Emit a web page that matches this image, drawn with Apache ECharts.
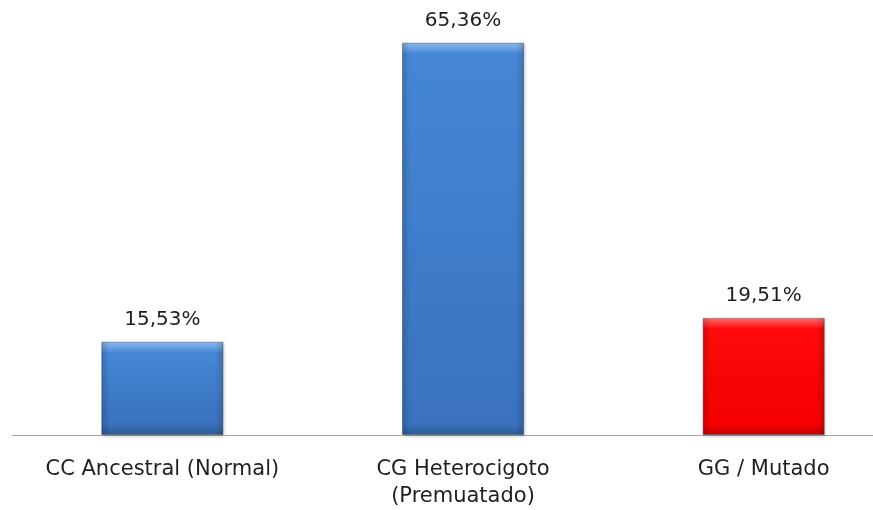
<!DOCTYPE html>
<html>
<head>
<meta charset="utf-8">
<script src="https://cdn.jsdelivr.net/npm/echarts@6/dist/echarts.min.js"></script>
<style>
  html, body { margin: 0; padding: 0; background: #ffffff; }
  #chart { width: 873px; height: 510px; }
</style>
</head>
<body>
<div id="chart"></div>
<script>
// Genotype distribution (percent of samples)
const categories = ['CC Ancestral (Normal)', 'CG Heterocigoto\n(Premuatado)', 'GG / Mutado'];
const values = [15.53, 65.36, 19.51];
const valueLabels = ['15,53%', '65,36%', '19,51%'];
const barKinds = ['blue', 'blue', 'red'];

const palettes = {
  blue: { top: '#8fbef2', main: '#4587d5', low: '#3a72bd', bottom: '#2c5a96' },
  red:  { top: '#ff7070', main: '#ff0a0a', low: '#f50000', bottom: '#c80000' }
};

const yMax = 70;
const plotHeight = 420;

// vertical bevel: light top rim, darker foot
function bevelFill(value, kind) {
  const p = palettes[kind];
  const h = value / yMax * plotHeight;
  const t = Math.min(0.3, 11 / h);
  const b = Math.min(0.3, 11 / h);
  return new echarts.graphic.LinearGradient(0, 0, 0, 1, [
    { offset: 0, color: p.top },
    { offset: t, color: p.main },
    { offset: 1 - b, color: p.low },
    { offset: 1, color: p.bottom }
  ]);
}

// horizontal shading laid over the bars: darker side rims
const sideShade = new echarts.graphic.LinearGradient(0, 0, 1, 0, [
  { offset: 0, color: 'rgba(0,0,0,0.15)' },
  { offset: 0.07, color: 'rgba(0,0,0,0)' },
  { offset: 0.93, color: 'rgba(0,0,0,0)' },
  { offset: 1, color: 'rgba(0,0,0,0.15)' }
]);

const chart = echarts.init(document.getElementById('chart'));
chart.setOption({
  animation: false,
  backgroundColor: '#ffffff',
  // the plot runs past the right edge so the last category sits where it should
  grid: {
    left: 12, width: 902, top: 15, height: plotHeight,
    containLabel: false, outerBoundsMode: 'none'
  },
  xAxis: {
    type: 'category',
    data: categories,
    axisLine: { show: true, lineStyle: { color: '#a6a6a6', width: 1 } },
    axisTick: { show: false },
    axisLabel: {
      color: '#1f1f1f',
      fontFamily: '"DejaVu Sans", sans-serif',
      fontSize: 21,
      lineHeight: 27,
      margin: 21,
      interval: 0
    }
  },
  yAxis: {
    type: 'value',
    min: 0,
    max: yMax,
    show: false,
    splitLine: { show: false }
  },
  series: [{
    type: 'bar',
    barWidth: 122,
    data: values.map((v, i) => ({
      value: v,
      itemStyle: {
        color: bevelFill(v, barKinds[i]),
        borderColor: 'rgba(40,60,90,0.35)',
        borderWidth: 1,
        shadowColor: 'rgba(0,0,0,0.25)',
        shadowBlur: 3,
        shadowOffsetX: 1,
        shadowOffsetY: 1
      }
    })),
    label: {
      show: true,
      position: 'top',
      distance: 12,
      color: '#1f1f1f',
      fontFamily: '"DejaVu Sans", sans-serif',
      fontSize: 20,
      formatter: (p) => valueLabels[p.dataIndex]
    }
  }, {
    type: 'bar',
    barWidth: 122,
    barGap: '-100%',
    silent: true,
    z: 3,
    data: values,
    itemStyle: { color: sideShade }
  }]
});
</script>
</body>
</html>
